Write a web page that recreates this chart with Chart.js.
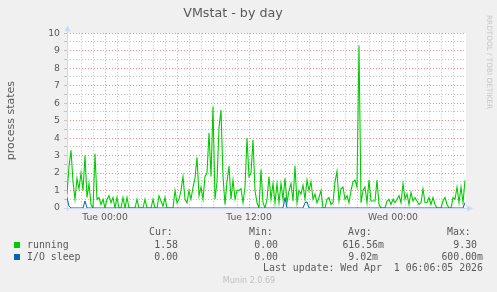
<!DOCTYPE html>
<html>
<head>
<meta charset="utf-8">
<script src="https://cdn.jsdelivr.net/npm/chart.js@4.4.1/dist/chart.umd.min.js"></script>
<style>
  html, body { margin: 0; padding: 0; background: #f0f0f0; }
  canvas { display: block; }
</style>
</head>
<body>
<canvas id="c" width="497" height="292"></canvas>
<script>
// one sample every 10 minutes, first one Mon 20:50 (hours counted from Tue 00:00)
const startHour = -19 / 6
const stepHours = 1 / 6

const running = [
  0.8, 2.4, 3.3, 1.5, 0.5, 1.7, 1.1, 2.0, 1.0, 3.0,
  0.6, 1.4, 0.2, 0, 3.1, 0.5, 0.6, 0.2, 0.5, 0,
  0.5, 0.7, 0.3, 0.6, 0, 0.6, 0, 0, 0.6, 0,
  0.6, 0, 0, 0, 0, 0.5, 0, 0, 0, 0.5,
  0, 0, 0, 0.5, 0, 0, 0.7, 0.4, 0.1, 0.6,
  0, 0, 0, 0, 1.0, 0.3, 0.5, 1.0, 1.8, 0.5,
  0.3, 1.0, 0.5, 1.2, 1.7, 2.9, 0.7, 1.2, 0.5, 1.8,
  2.0, 4.3, 1.8, 5.8, 0.5, 1.5, 4.6, 5.6, 1.8, 0.2,
  1.5, 2.4, 0.5, 1.6, 0.5, 1.0, 1.0, 1.1, 0.3, 1.2,
  4.0, 1.8, 2.0, 3.9, 1.0, 0.3, 0, 2.2, 0.3, 0,
  0.5, 1.8, 0.5, 1.4, 0.3, 1.4, 0.3, 1.4, 0.5, 1.7,
  0.3, 1.0, 1.4, 0.4, 2.4, 0.3, 1.0, 0.8, 1.3, 0.5,
  1.6, 1.0, 1.5, 0.5, 0.8, 0.3, 0.6, 1.0, 0, 0,
  0.5, 0.6, 0.2, 0.3, 1.5, 2.1, 0.4, 1.1, 1.2, 0.5,
  0.7, 0.3, 1.0, 1.5, 1.6, 1.2, 9.3, 0.3, 1.0, 1.2,
  0.3, 1.6, 0.4, 0.4, 0.4, 1.6, 0.2, 0, 0, 0,
  0.4, 0.5, 0.2, 0.5, 0.3, 0.5, 0.7, 0.3, 1.4, 0.5,
  0.8, 0.2, 0.9, 0.4, 0.6, 0.4, 0.2, 0.3, 1.1, 0.3,
  0.3, 0.6, 0.2, 0.6, 0.2, 0, 0, 0, 0.4, 0.6,
  0.2, 0, 0, 0.6, 0.5, 1.2, 0.3, 1.2, 0.3, 1.58
]

const ioSleep = [
  0.6, 0.1, 0, 0, 0, 0, 0, 0, 0, 0.4,
  0, 0, 0, 0, 0, 0, 0, 0, 0, 0,
  0, 0, 0, 0, 0, 0, 0, 0, 0, 0,
  0, 0, 0, 0, 0, 0, 0, 0, 0, 0,
  0, 0, 0, 0, 0, 0, 0, 0, 0, 0,
  0, 0, 0, 0, 0, 0, 0, 0, 0, 0,
  0, 0, 0, 0, 0, 0, 0, 0, 0, 0,
  0, 0, 0, 0, 0, 0, 0, 0, 0, 0,
  0, 0, 0, 0, 0, 0, 0, 0, 0, 0,
  0, 0, 0, 0, 0, 0, 0, 0, 0, 0,
  0, 0, 0, 0, 0, 0, 0, 0, 0, 0.6,
  0, 0, 0, 0, 0, 0, 0, 0, 0, 0.3,
  0.35, 0, 0, 0, 0, 0, 0, 0, 0, 0,
  0, 0, 0, 0, 0, 0, 0, 0, 0, 0,
  0, 0, 0, 0, 0, 0, 0, 0, 0, 0,
  0, 0, 0, 0, 0, 0, 0, 0, 0, 0,
  0, 0, 0, 0, 0, 0, 0, 0, 0, 0,
  0, 0, 0, 0, 0, 0, 0, 0, 0, 0,
  0, 0, 0, 0, 0, 0, 0, 0, 0, 0,
  0, 0, 0, 0, 0, 0, 0, 0, 0, 0.3
]

const xTickHours = [0, 12, 24]
const xTickLabels = ['Tue 00:00', 'Tue 12:00', 'Wed 00:00']
const yTickLabels = ['0', '1', '2', '3', '4', '5', '6', '7', '8', '9', '10']

const seriesNames = ['running', 'I/O sleep']
const seriesColors = ['#00cc00', '#0066b3']
const legendCur = ['1.58 ', '0.00 ']
const legendMin = ['0.00 ', '0.00 ']
const legendAvg = ['616.56m', '9.02m ']
const legendMax = ['9.30 ', '600.00m']
const lastUpdate = 'Last update: Wed Apr  1 06:06:05 2026'

const minorGrid = 'rgba(140,140,140,0.55)'
const majorGrid = 'rgba(225,70,70,0.6)'
const axisColor = '#cfd6f8'
const fontColor = '#5a5a5a'

const toPoints = arr => arr.map((v, i) => ({x: startHour + i * stepHours, y: v}))

const muninLook = {
  id: 'muninLook',
  beforeDraw(chart) {
    const {ctx, chartArea: a} = chart
    ctx.save()
    ctx.fillStyle = '#f0f0f0'
    ctx.fillRect(0, 0, chart.width, chart.height)
    ctx.fillStyle = '#ffffff'
    ctx.fillRect(a.left, a.top, a.right - a.left, a.bottom - a.top)
    ctx.restore()
  },
  beforeDatasetsDraw(chart) {
    const {ctx, chartArea: a} = chart
    ctx.save()
    ctx.strokeStyle = axisColor
    ctx.fillStyle = axisColor
    ctx.lineWidth = 1
    ctx.beginPath()
    ctx.moveTo(a.left + 0.5, a.bottom + 3)
    ctx.lineTo(a.left + 0.5, a.top - 4)
    ctx.moveTo(a.left - 3, a.bottom + 0.5)
    ctx.lineTo(a.right + 3, a.bottom + 0.5)
    ctx.stroke()
    ctx.beginPath()
    ctx.moveTo(a.left + 0.5, a.top - 8)
    ctx.lineTo(a.left - 2.5, a.top - 2)
    ctx.lineTo(a.left + 3.5, a.top - 2)
    ctx.closePath()
    ctx.fill()
    ctx.beginPath()
    ctx.moveTo(a.right + 7, a.bottom + 0.5)
    ctx.lineTo(a.right + 1, a.bottom - 2.5)
    ctx.lineTo(a.right + 1, a.bottom + 3.5)
    ctx.closePath()
    ctx.fill()
    ctx.restore()
  },
  afterDraw(chart) {
    const {ctx} = chart
    ctx.save()
    ctx.textBaseline = 'middle'
    ctx.fillStyle = fontColor
    ctx.font = '9.9px "DejaVu Sans Mono"'
    ctx.textAlign = 'left'
    ctx.fillText('Cur:', 149, 232)
    ctx.fillText('Min:', 249, 232)
    ctx.fillText('Avg:', 348, 232)
    ctx.fillText('Max:', 447, 232)
    seriesNames.forEach((name, i) => {
      const y = 245 + i * 12
      ctx.fillStyle = seriesColors[i]
      ctx.fillRect(14, y - 3, 6, 6)
      ctx.fillStyle = fontColor
      ctx.textAlign = 'left'
      ctx.fillText(name, 27, y)
      ctx.textAlign = 'right'
      ctx.fillText(legendCur[i], 184, y)
      ctx.fillText(legendMin[i], 284, y)
      ctx.fillText(legendAvg[i], 384, y)
      ctx.fillText(legendMax[i], 483, y)
    })
    ctx.fillText(lastUpdate, 483, 268)

    ctx.textAlign = 'center'
    ctx.fillStyle = '#c0c0c0'
    ctx.font = '8px "DejaVu Sans"'
    ctx.fillText('Munin 2.0.69', 249, 281)

    ctx.translate(489, 15)
    ctx.rotate(Math.PI / 2)
    ctx.textAlign = 'left'
    ctx.fillStyle = '#c8c8c8'
    ctx.font = '7.3px "DejaVu Sans"'
    ctx.fillText('RRDTOOL / TOBI OETIKER', 0, 0)
    ctx.restore()
  }
}

new Chart(document.getElementById('c'), {
  type: 'line',
  data: {
    datasets: [
      {
        label: seriesNames[0],
        data: toPoints(running),
        borderColor: seriesColors[0],
        borderWidth: 1.1,
        pointRadius: 0,
        tension: 0,
        order: 1
      },
      {
        label: seriesNames[1],
        data: toPoints(ioSleep),
        borderColor: seriesColors[1],
        borderWidth: 1,
        pointRadius: 0,
        tension: 0,
        order: 0
      }
    ]
  },
  options: {
    responsive: false,
    animation: false,
    devicePixelRatio: 1,
    layout: { padding: { left: 0, right: 31, top: 0, bottom: 0 } },
    plugins: {
      legend: { display: false },
      tooltip: { enabled: false },
      title: {
        display: true,
        text: 'VMstat - by day',
        color: fontColor,
        font: { family: 'DejaVu Sans', size: 12.7, weight: 'normal' },
        padding: { top: 6, bottom: 12 }
      }
    },
    scales: {
      x: {
        type: 'linear',
        min: startHour,
        max: 30 + 1 / 12,
        afterFit: s => { s.height = 84 },
        border: { display: false, dash: [1, 2] },
        grid: {
          lineWidth: 1,
          color: c => Number.isInteger(c.tick.value) ? (c.tick.value % 6 === 0 ? majorGrid : minorGrid) : 'rgba(0,0,0,0)',
          tickLength: 3,
          tickColor: 'rgba(0,0,0,0)'
        },
        ticks: {
          stepSize: 1,
          autoSkip: false,
          maxRotation: 0,
          padding: 1,
          color: fontColor,
          font: { family: 'DejaVu Sans', size: 9.3 },
          callback: v => {
            const k = xTickHours.indexOf(v)
            return k >= 0 ? xTickLabels[k] : ''
          }
        }
      },
      y: {
        min: 0,
        max: 10,
        afterFit: s => { s.width = 67 },
        border: { display: false, dash: [1, 2] },
        grid: {
          lineWidth: 1,
          color: c => Number.isInteger(c.tick.value) ? majorGrid : minorGrid,
          tickLength: 3,
          tickColor: '#c4c4c4',
          tickBorderDash: []
        },
        ticks: {
          stepSize: 0.5,
          autoSkip: false,
          padding: 4,
          color: fontColor,
          font: { family: 'DejaVu Sans', size: 9.3 },
          callback: v => Number.isInteger(v) ? yTickLabels[v] : ''
        },
        title: {
          display: true,
          text: 'process states',
          color: fontColor,
          font: { family: 'DejaVu Sans', size: 11 },
          padding: { top: 5, bottom: 0 }
        }
      }
    }
  },
  plugins: [muninLook]
})
</script>
</body>
</html>
